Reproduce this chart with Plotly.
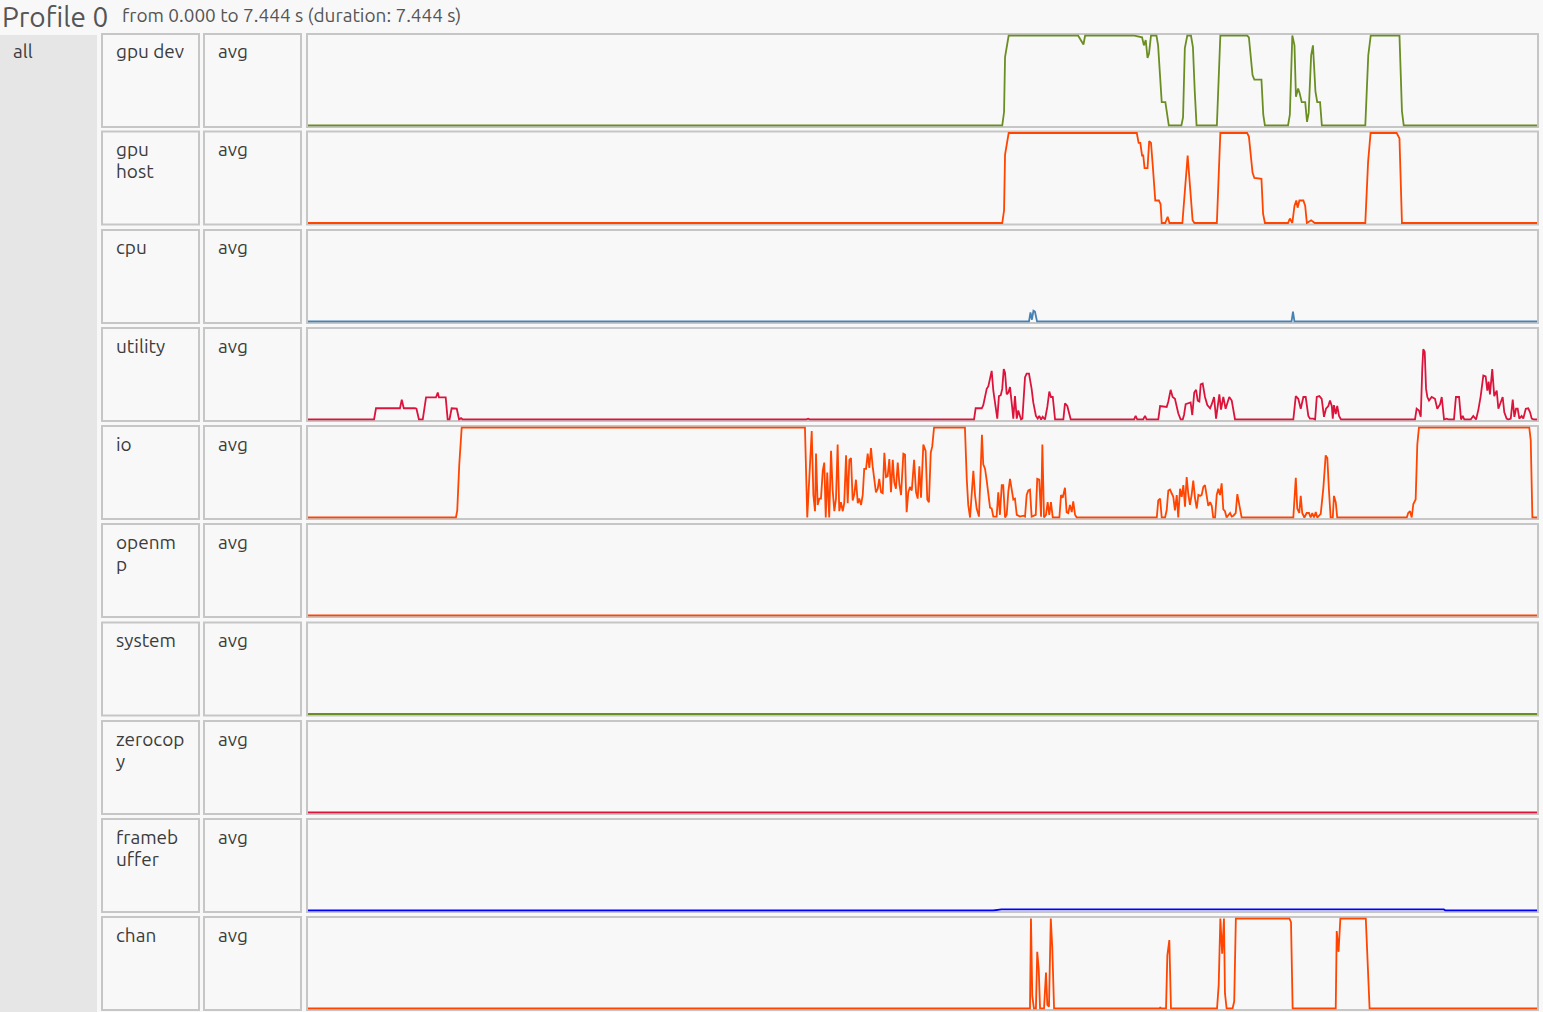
import plotly.graph_objects as go

W, H = 1543, 1012
DURATION = 7.444  # seconds

TITLE = "Profile 0"
SUBTITLE = "from 0.000 to 7.444 s (duration: 7.444 s)"
GROUP = "all"
row_labels = [["gpu dev"], ["gpu", "host"], ["cpu"], ["utility"], ["io"], ["openm", "p"],
              ["system"], ["zerocop", "y"], ["frameb", "uffer"], ["chan"]]
row_stat = "avg"
row_colors = ["#6b8e23", "#ff4500", "#4682b4", "#dc143c", "#ff4500", "#ff4500",
              "#6b8e23", "#dc143c", "#0000ff", "#ff4500"]

# ---- utilization data (time in s, utilization 0..1) ----
gpu_dev_t = [0.0, 4.205, 4.216, 4.222, 4.244, 4.664, 4.697, 4.707, 4.998, 5.052, 5.063, 5.074,
             5.085, 5.094, 5.106, 5.139, 5.149, 5.171, 5.193, 5.214, 5.290, 5.300, 5.311, 5.326,
             5.348, 5.360, 5.371, 5.382, 5.505, 5.526, 5.688, 5.699, 5.721, 5.732, 5.775, 5.786,
             5.796, 5.936, 5.947, 5.962, 5.975, 5.984, 5.997, 6.006, 6.019, 6.040, 6.051, 6.061,
             6.076, 6.087, 6.102, 6.113, 6.130, 6.141, 6.404, 6.422, 6.437, 6.611, 6.626, 6.637, 7.444]
gpu_dev_u = [0, 0, 0.15, 0.76, 1, 1, 0.90, 1, 1, 0.98, 0.89, 0.95,
             0.75, 0.80, 1, 1, 0.89, 0.26, 0.26, 0, 0, 0.09, 0.86, 1,
             1, 0.87, 0.38, 0, 0, 1, 1, 0.98, 0.56, 0.51, 0.51, 0.12,
             0, 0, 0.12, 1, 0.89, 0.32, 0.41, 0.36, 0.26, 0.26, 0.04, 0.14,
             0.78, 0.89, 0.38, 0.26, 0.26, 0, 0, 0.78, 1, 1, 0.16, 0, 0]

gpu_host_t = [0.0, 4.205, 4.216, 4.222, 4.244, 5.020, 5.031, 5.041, 5.052, 5.059, 5.067, 5.085,
              5.095, 5.106, 5.117, 5.132, 5.154, 5.164, 5.171, 5.192, 5.207, 5.218, 5.296, 5.311,
              5.328, 5.343, 5.358, 5.369, 5.505, 5.526, 5.688, 5.699, 5.721, 5.732, 5.775, 5.785,
              5.796, 5.936, 5.947, 5.962, 5.975, 5.986, 5.994, 6.005, 6.029, 6.040, 6.050, 6.076,
              6.098, 6.404, 6.421, 6.436, 6.594, 6.611, 6.626, 7.444]
gpu_host_u = [0, 0, 0.14, 0.76, 1, 1, 0.89, 0.89, 0.75, 0.75, 0.61, 0.61,
              0.91, 0.89, 0.63, 0.25, 0.25, 0.21, 0, 0, 0.07, 0, 0, 0.39,
              0.75, 0.39, 0.03, 0, 0, 1, 1, 0.96, 0.56, 0.50, 0.49, 0.10,
              0, 0, 0.05, 0, 0.19, 0.25, 0.17, 0.25, 0.25, 0.19, 0, 0.03,
              0, 0, 0.68, 1, 1, 0.94, 0, 0]

cpu_t = [0.0, 4.367, 4.376, 4.385, 4.394, 4.403, 4.416, 5.957, 5.966, 5.975, 7.444]
cpu_u = [0, 0, 0.10, 0.02, 0.12, 0.11, 0, 0, 0.11, 0, 0]

utility_t = [0.0, 0.400, 0.412, 0.557, 0.568, 0.580, 0.648, 0.657, 0.672, 0.695, 0.715, 0.775,
             0.786, 0.793, 0.834, 0.846, 0.857, 0.870, 0.901, 0.915, 0.927, 0.937, 3.016, 3.029,
             3.041, 4.034, 4.044, 4.081, 4.090, 4.111, 4.121, 4.141, 4.151, 4.161, 4.175, 4.185,
             4.196, 4.205, 4.214, 4.222, 4.232, 4.242, 4.252, 4.266, 4.272, 4.282, 4.293, 4.302,
             4.313, 4.319, 4.327, 4.343, 4.353, 4.367, 4.383, 4.393, 4.409, 4.420, 4.429, 4.440,
             4.450, 4.464, 4.478, 4.490, 4.500, 4.511, 4.525, 4.575, 4.585, 4.599, 4.620, 5.003,
             5.013, 5.023, 5.058, 5.070, 5.080, 5.150, 5.161, 5.201, 5.211, 5.225, 5.237, 5.251,
             5.271, 5.286, 5.298, 5.306, 5.316, 5.332, 5.346, 5.356, 5.368, 5.379, 5.389, 5.399,
             5.407, 5.419, 5.433, 5.447, 5.464, 5.474, 5.488, 5.500, 5.510, 5.520, 5.530, 5.544,
             5.558, 5.571, 5.580, 5.595, 5.605, 5.615, 5.968, 5.983, 5.998, 6.013, 6.029, 6.043,
             6.059, 6.069, 6.089, 6.100, 6.110, 6.126, 6.140, 6.154, 6.166, 6.180, 6.190, 6.201,
             6.207, 6.214, 6.225, 6.234, 6.245, 6.257, 6.705, 6.715, 6.729, 6.740, 6.749, 6.755,
             6.764, 6.772, 6.780, 6.790, 6.806, 6.826, 6.840, 6.857, 6.867, 6.881, 6.897, 6.911,
             6.941, 6.953, 6.972, 6.984, 6.994, 7.004, 7.042, 7.058, 7.075, 7.089, 7.103, 7.119,
             7.133, 7.143, 7.151, 7.159, 7.173, 7.185, 7.200, 7.210, 7.220, 7.236, 7.246, 7.260,
             7.270, 7.285, 7.297, 7.307, 7.317, 7.327, 7.337, 7.351, 7.361, 7.376, 7.391, 7.402,
             7.412, 7.426, 7.444]
utility_u = [0, 0, 0.125, 0.125, 0.22, 0.125, 0.125, 0.12, 0, 0, 0.245, 0.245,
             0.30, 0.245, 0.245, 0, 0, 0.125, 0.12, 0, 0.015, 0, 0, 0.01,
             0, 0, 0.125, 0.125, 0.16, 0.34, 0.37, 0.54, 0.32, 0.21, 0.01, 0.26,
             0.27, 0.34, 0.56, 0.52, 0.28, 0.30, 0.36, 0.12, 0.01, 0.26, 0.01, 0.10,
             0.02, 0, 0.01, 0.47, 0.51, 0.51, 0.34, 0.19, 0.04, 0.01, 0.04, 0,
             0.03, 0, 0.14, 0.31, 0.25, 0.25, 0, 0, 0.18, 0.15, 0, 0,
             0.04, 0, 0, 0.04, 0, 0, 0.15, 0.14, 0.20, 0.33, 0.25, 0.23,
             0.07, 0, 0, 0.05, 0.17, 0.18, 0.19, 0.05, 0.30, 0.33, 0.21, 0.20,
             0.39, 0.40, 0.25, 0.16, 0.125, 0.17, 0.25, 0.01, 0.18, 0.28, 0.11, 0.25,
             0.12, 0.21, 0.25, 0.21, 0.12, 0, 0, 0.26, 0.23, 0.12, 0.25, 0.25,
             0.04, 0.01, 0.01, 0, 0.25, 0.26, 0.23, 0.03, 0.12, 0.15, 0.21, 0.15,
             0.01, 0.16, 0.06, 0.15, 0.04, 0, 0, 0.12, 0.10, 0.03, 0.56, 0.78,
             0.75, 0.34, 0.25, 0.21, 0.25, 0.23, 0.12, 0.17, 0.25, 0, 0.01, 0,
             0, 0.25, 0.25, 0, 0.04, 0, 0, 0.04, 0, 0.11, 0.26, 0.49,
             0.48, 0.32, 0.42, 0.28, 0.56, 0.26, 0.32, 0.12, 0.17, 0.25, 0.08, 0.01,
             0, 0.01, 0.22, 0.03, 0.12, 0.12, 0.01, 0.04, 0.01, 0.12, 0.125, 0.08,
             0.01, 0, 0]

io_t = [0.0, 0.850, 0.896, 0.904, 0.916, 0.931, 3.010, 3.024, 3.036, 3.051, 3.061, 3.071,
        3.077, 3.087, 3.097, 3.107, 3.118, 3.127, 3.136, 3.145, 3.157, 3.168, 3.178, 3.188,
        3.198, 3.208, 3.218, 3.228, 3.239, 3.248, 3.259, 3.269, 3.279, 3.289, 3.299, 3.309,
        3.319, 3.330, 3.339, 3.350, 3.360, 3.369, 3.380, 3.390, 3.400, 3.410, 3.420, 3.430,
        3.440, 3.451, 3.460, 3.471, 3.481, 3.491, 3.501, 3.511, 3.521, 3.531, 3.542, 3.551,
        3.561, 3.572, 3.582, 3.592, 3.606, 3.616, 3.626, 3.636, 3.646, 3.657, 3.671, 3.683,
        3.693, 3.703, 3.713, 3.727, 3.741, 3.751, 3.761, 3.772, 3.781, 3.792, 3.979, 3.990,
        3.999, 4.010, 4.020, 4.030, 4.040, 4.050, 4.064, 4.074, 4.082, 4.090, 4.101, 4.111,
        4.121, 4.131, 4.141, 4.151, 4.171, 4.181, 4.191, 4.202, 4.211, 4.222, 4.232, 4.242,
        4.252, 4.262, 4.272, 4.282, 4.293, 4.313, 4.333, 4.343, 4.353, 4.363, 4.373, 4.383,
        4.397, 4.408, 4.417, 4.429, 4.440, 4.448, 4.458, 4.470, 4.480, 4.490, 4.500, 4.511,
        4.551, 4.561, 4.571, 4.585, 4.595, 4.605, 4.615, 4.626, 4.635, 4.646, 4.656, 5.141,
        5.150, 5.161, 5.171, 5.191, 5.201, 5.211, 5.221, 5.231, 5.241, 5.251, 5.262, 5.271,
        5.282, 5.292, 5.302, 5.312, 5.322, 5.332, 5.342, 5.352, 5.362, 5.373, 5.383, 5.393,
        5.403, 5.413, 5.423, 5.433, 5.443, 5.453, 5.464, 5.474, 5.483, 5.494, 5.504, 5.514,
        5.524, 5.534, 5.544, 5.554, 5.564, 5.574, 5.585, 5.595, 5.605, 5.619, 5.629, 5.639,
        5.655, 5.968, 5.983, 5.992, 6.004, 6.013, 6.022, 6.035, 6.049, 6.063, 6.073, 6.083,
        6.093, 6.104, 6.113, 6.134, 6.150, 6.164, 6.174, 6.184, 6.194, 6.207, 6.214, 6.225,
        6.234, 6.655, 6.664, 6.675, 6.685, 6.695, 6.709, 6.719, 6.729, 7.397, 7.406, 7.416,
        7.444]
io_u = [0, 0, 0, 0.08, 0.58, 1, 1, 0, 0.43, 0.96, 0.25, 0.07,
        0.71, 0.14, 0.21, 0.21, 0.52, 0.61, 0, 0.5, 0, 0.74, 0.30, 0.07,
        0.21, 0.81, 0.07, 0.17, 0.07, 0.16, 0.69, 0.16, 0.64, 0.66, 0.19, 0.26,
        0.42, 0.16, 0.21, 0.14, 0.25, 0.54, 0.54, 0.71, 0.55, 0.77, 0.57, 0.39,
        0.28, 0.32, 0.43, 0.28, 0.27, 0.72, 0.45, 0.46, 0.65, 0.28, 0.64, 0.39,
        0.32, 0.61, 0.37, 0.25, 0.71, 0.70, 0.06, 0.28, 0.34, 0.30, 0.64, 0.28,
        0.21, 0.57, 0.22, 0.81, 0.74, 0.20, 0.17, 0.72, 0.79, 1, 1, 0.43,
        0.14, 0, 0.23, 0.52, 0.25, 0.10, 0.01, 0.66, 0.92, 0.59, 0.54, 0.41,
        0.23, 0.11, 0.10, 0.01, 0.01, 0.28, 0.03, 0.36, 0.36, 0, 0.03, 0.29,
        0.43, 0.30, 0.20, 0.21, 0.03, 0.01, 0.02, 0.01, 0.25, 0.30, 0.31, 0.01,
        0.02, 0.03, 0.43, 0.42, 0.01, 0.81, 0, 0.03, 0.17, 0.03, 0.17, 0,
        0, 0.25, 0.22, 0.33, 0.06, 0.05, 0.14, 0.06, 0.18, 0.03, 0, 0,
        0.19, 0.21, 0, 0, 0.08, 0.30, 0.31, 0.26, 0.23, 0.08, 0.25, 0,
        0.32, 0.23, 0.36, 0.12, 0.45, 0.26, 0.14, 0.25, 0.41, 0.21, 0.10, 0.25,
        0.24, 0.25, 0.34, 0.36, 0.26, 0.13, 0.17, 0.13, 0, 0, 0.25, 0.32,
        0.25, 0.38, 0.09, 0.07, 0, 0.02, 0.05, 0.01, 0.02, 0.05, 0.26, 0.16,
        0, 0, 0.44, 0.10, 0.05, 0.24, 0.05, 0, 0.05, 0.05, 0, 0.05,
        0, 0.06, 0, 0.04, 0.33, 0.69, 0.66, 0.30, 0, 0, 0.24, 0.17,
        0, 0, 0.05, 0.07, 0, 0.15, 0.20, 0.81, 1, 1, 0.86, 0,
        0]

openmp_t = [0.0, 7.444]
openmp_u = [0, 0]

system_t = [0.0, 7.444]
system_u = [0, 0]

zerocopy_t = [0.0, 7.444]
zerocopy_u = [0, 0]

framebuffer_t = [0.0, 4.150, 4.200, 6.880, 6.890, 7.444]
framebuffer_u = [0, 0, 0.012, 0.012, 0, 0]

chan_t = [0.0, 4.373, 4.379, 4.387, 4.397, 4.409, 4.417, 4.426, 4.434, 4.458, 4.470, 4.478,
          4.488, 4.499, 4.508, 4.519, 5.156, 5.162, 5.171, 5.197, 5.205, 5.217, 5.227, 5.506,
          5.516, 5.526, 5.537, 5.548, 5.554, 5.564, 5.600, 5.610, 5.620, 5.944, 5.954, 5.964,
          6.225, 6.231, 6.242, 6.253, 6.407, 6.419, 6.430, 7.444]
chan_u = [0, 0, 1, 0.14, 0, 0, 0.63, 0.44, 0, 0, 0.40, 0.04,
          0.02, 1, 0.68, 0, 0, 0.01, 0, 0, 0.59, 0.76, 0, 0,
          0.26, 1, 0.61, 1, 0.17, 0, 0, 0.08, 1, 1, 0.96, 0,
          0, 0.86, 0.63, 1, 1, 0.48, 0, 0]

series = [(gpu_dev_t, gpu_dev_u), (gpu_host_t, gpu_host_u), (cpu_t, cpu_u),
          (utility_t, utility_u), (io_t, io_u), (openmp_t, openmp_u),
          (system_t, system_u), (zerocopy_t, zerocopy_u),
          (framebuffer_t, framebuffer_u), (chan_t, chan_u)]

# ---- layout (pixel geometry) ----
FONT = "Ubuntu, 'Noto Sans', 'Open Sans', sans-serif"
BG = "#f8f8f8"
BORDER = "#c6c6c6"
TEXT = "#3c3c3c"
FS = 19
LINE_STEP = 22
row_tops = [34, 131.5, 230, 328, 426, 524, 622.5, 721, 819, 917]
ROW_H = 93
LBL_X0, LBL_X1 = 102, 199
AVG_X0, AVG_X1 = 204, 301
PLT_X0, PLT_X1 = 307, 1538


def px(x):
    return x / W


def py(y):
    return 1 - y / H


def text(s, x, y, size=FS, color=TEXT):
    return dict(text=s, x=px(x), y=py(y), xref="paper", yref="paper",
                xanchor="left", yanchor="middle", showarrow=False,
                font=dict(family=FONT, size=size, color=color))


fig = go.Figure()
shapes = []
annotations = []

# group box "all"
shapes.append(dict(type="rect", xref="paper", yref="paper", x0=px(0), x1=px(97),
                   y0=py(1012), y1=py(35), fillcolor="#e6e6e6", line=dict(width=0), layer="below"))
annotations.append(text(GROUP, 11, 51))

annotations.append(text(TITLE, 0, 16, size=28, color="#555555"))
annotations.append(text(SUBTITLE, 120, 15, size=19, color="#555555"))

pad = 1.0 / 91
for i, (lbl, col, (ts, us)) in enumerate(zip(row_labels, row_colors, series)):
    top = row_tops[i]
    bot = top + ROW_H
    for (a, b) in [(LBL_X0, LBL_X1), (AVG_X0, AVG_X1), (PLT_X0, PLT_X1)]:
        shapes.append(dict(type="rect", xref="paper", yref="paper", x0=px(a), x1=px(b),
                           y0=py(bot), y1=py(top), fillcolor=BG,
                           line=dict(color=BORDER, width=2), layer="below"))
    for k, part in enumerate(lbl):
        annotations.append(text(part, LBL_X0 + 12, top + 17.5 + k * LINE_STEP))
    annotations.append(text(row_stat, AVG_X0 + 12, top + 17.5))
    n = "" if i == 0 else str(i + 1)
    fig.add_trace(go.Scatter(x=ts, y=us, mode="lines", xaxis="x" + n, yaxis="y" + n,
                             line=dict(color=col, width=1.8), hoverinfo="x+y", showlegend=False))
    fig.layout["xaxis" + n] = dict(domain=[px(PLT_X0 + 1), px(PLT_X1 - 1)], range=[0, DURATION],
                                   visible=False, fixedrange=True, anchor="y" + n)
    fig.layout["yaxis" + n] = dict(domain=[py(bot - 0.5), py(top + 0.5)], range=[-pad, 1 + pad],
                                   visible=False, fixedrange=True, anchor="x" + n)

fig.update_layout(width=W, height=H, margin=dict(l=0, r=0, t=0, b=0),
                  paper_bgcolor=BG, plot_bgcolor="rgba(0,0,0,0)",
                  shapes=shapes, annotations=annotations, showlegend=False)

fig.write_html("out.html", config={"displayModeBar": False},
               post_script="document.body.style.margin='0';document.body.style.overflow='hidden';"
                           "document.body.style.background='#f8f8f8';")
